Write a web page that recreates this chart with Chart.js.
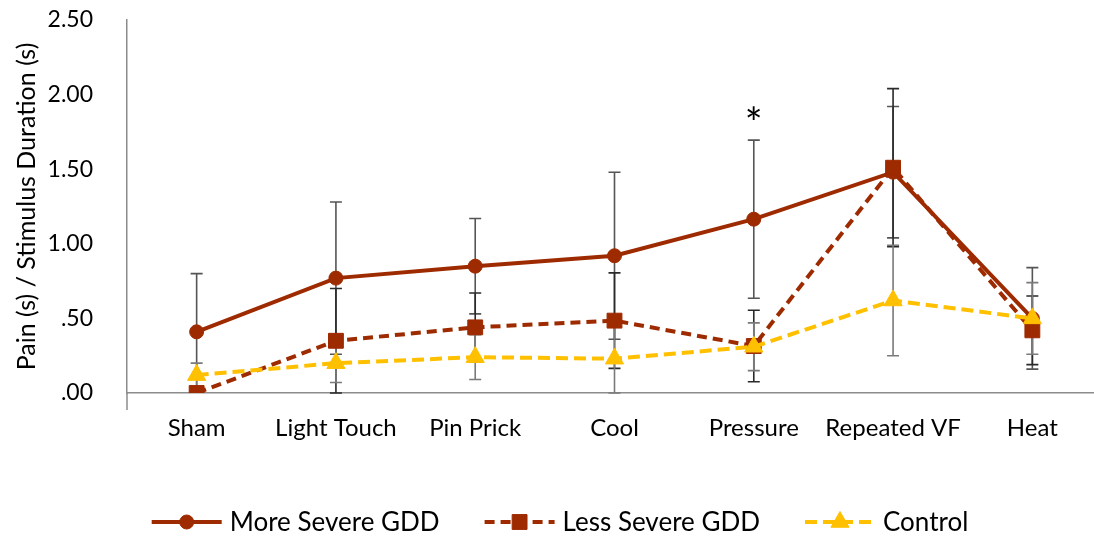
<!DOCTYPE html>
<html>
<head>
<meta charset="utf-8">
<script src="https://cdn.jsdelivr.net/npm/chart.js@4/dist/chart.umd.min.js"></script>
<style>
  html, body { margin: 0; padding: 0; overflow: hidden; background: #fff; }
  canvas { display: block; }
</style>
</head>
<body>
<canvas id="chart" width="1120" height="540"></canvas>
<script>
// Stimulus categories and group means (s) with their error half-widths
const categories = ['Sham', 'Light Touch', 'Pin Prick', 'Cool', 'Pressure', 'Repeated VF', 'Heat'];

const moreSevere    = [0.41, 0.77, 0.85, 0.92, 1.165, 1.48, 0.50];
const moreSevereErr = [0.39, 0.51, 0.32, 0.56, 0.53, 0.44, 0.34];

const lessSevere    = [0.00, 0.35, 0.44, 0.485, 0.315, 1.51, 0.42];
const lessSevereErr = [0.00, 0.35, 0.23, 0.32, 0.24, 0.53, 0.23];

const control       = [0.12, 0.20, 0.24, 0.23, 0.31, 0.62, 0.50];
const controlErr    = [0.08, 0.13, 0.15, 0.23, 0.16, 0.37, 0.24];

const yTickValues = [0, 0.5, 1.0, 1.5, 2.0, 2.5];
const significance = [null, null, null, null, '*', null, null];

const FONT = 'Lato, "Liberation Sans", sans-serif';
const DARK_RED = '#9E2A00';
const GOLD = '#FFC000';
const AXIS = '#8c8c8c';

function fmtTick(v) {
  const s = Number(v).toFixed(2);
  return v < 1 ? s.replace(/^0/, '') : s;
}

// Vertical error bars with caps, drawn through the chart's own scales
const errorBars = {
  id: 'errorBars',
  beforeDatasetsDraw(chart) {
    const { ctx, scales: { x, y } } = chart;
    ctx.save();
    chart.data.datasets.forEach((ds, di) => {
      if (!chart.isDatasetVisible(di) || !ds.errors) return;
      ctx.strokeStyle = ds.errorColor;
      ctx.lineWidth = 1.6;
      ds.data.forEach((v, i) => {
        const e = ds.errors[i];
        if (!e) return;
        const px = x.getPixelForValue(i);
        const top = y.getPixelForValue(v + e);
        const bot = y.getPixelForValue(Math.max(v - e, 0));
        ctx.beginPath();
        ctx.moveTo(px, top); ctx.lineTo(px, bot);
        ctx.moveTo(px - 6, top); ctx.lineTo(px + 6, top);
        ctx.moveTo(px - 6, bot); ctx.lineTo(px + 6, bot);
        ctx.stroke();
      });
    });
    ctx.restore();
  }
};

// Significance marks above the upper error bar of the first group
const sigMarks = {
  id: 'sigMarks',
  afterDatasetsDraw(chart) {
    const { ctx, scales: { x, y } } = chart;
    ctx.save();
    ctx.fillStyle = '#000';
    ctx.font = '42px ' + FONT;
    ctx.textAlign = 'center';
    ctx.textBaseline = 'alphabetic';
    significance.forEach((s, i) => {
      if (!s) return;
      const top = y.getPixelForValue(moreSevere[i] + moreSevereErr[i]);
      ctx.fillText(s, x.getPixelForValue(i), top - 2);
    });
    ctx.restore();
  }
};

function drawMarker(ctx, style, radius, x, y, color) {
  if (Chart.helpers && Chart.helpers.drawPoint) {
    ctx.fillStyle = color; ctx.strokeStyle = color; ctx.lineWidth = 1;
    ctx.setLineDash([]);
    Chart.helpers.drawPoint(ctx, { pointStyle: style, radius: radius, rotation: 0, borderWidth: 1 }, x, y);
  }
}

// Legend: line sample with centred marker, then the series name
const lineLegend = {
  id: 'lineLegend',
  afterDraw(chart) {
    const { ctx, chartArea } = chart;
    ctx.save();
    // y axis line continues a little below the category axis
    ctx.strokeStyle = AXIS; ctx.lineWidth = 1.5;
    ctx.beginPath();
    ctx.moveTo(chartArea.left, chartArea.bottom);
    ctx.lineTo(chartArea.left, chartArea.bottom + 17);
    ctx.stroke();

    ctx.font = '26px ' + FONT;
    ctx.textBaseline = 'middle';
    ctx.textAlign = 'left';
    const sample = 70, gapText = 8, gapItem = 45;
    const items = chart.data.datasets.map(ds => ({ ds, w: sample + gapText + ctx.measureText(ds.label).width }));
    const total = items.reduce((a, it) => a + it.w, 0) + gapItem * (items.length - 1);
    let cx = chart.width / 2 - total / 2;
    const cy = 522;
    items.forEach(({ ds, w }) => {
      ctx.strokeStyle = ds.borderColor;
      ctx.lineWidth = ds.borderWidth;
      ctx.setLineDash(ds.borderDash || []);
      ctx.beginPath();
      ctx.moveTo(cx, cy); ctx.lineTo(cx + sample, cy);
      ctx.stroke();
      drawMarker(ctx, ds.pointStyle, ds.pointRadius, cx + sample / 2, cy, ds.borderColor);
      ctx.fillStyle = '#000';
      ctx.fillText(ds.label, cx + sample + gapText, cy + 1);
      cx += w + gapItem;
    });
    ctx.restore();
  }
};

new Chart(document.getElementById('chart'), {
  type: 'line',
  data: {
    labels: categories,
    datasets: [
      {
        label: 'More Severe GDD', data: moreSevere, errors: moreSevereErr, errorColor: '#555555',
        borderColor: DARK_RED, backgroundColor: DARK_RED, borderWidth: 4,
        pointStyle: 'circle', pointRadius: 7, pointBorderWidth: 1,
        pointBackgroundColor: DARK_RED, pointBorderColor: DARK_RED, order: 2
      },
      {
        label: 'Less Severe GDD', data: lessSevere, errors: lessSevereErr, errorColor: '#2a2a2a',
        borderColor: DARK_RED, backgroundColor: DARK_RED, borderWidth: 4, borderDash: [10, 6],
        pointStyle: 'rect', pointRadius: 10.5, pointBorderWidth: 1,
        pointBackgroundColor: DARK_RED, pointBorderColor: DARK_RED, order: 1
      },
      {
        label: 'Control', data: control, errors: controlErr, errorColor: '#7a7a7a',
        borderColor: GOLD, backgroundColor: GOLD, borderWidth: 4, borderDash: [12, 6],
        pointStyle: 'triangle', pointRadius: 10.5, pointBorderWidth: 1,
        pointBackgroundColor: GOLD, pointBorderColor: GOLD, order: 0
      }
    ]
  },
  options: {
    responsive: false,
    animation: false,
    devicePixelRatio: 1,
    layout: { padding: { left: 0, top: 20, right: 18, bottom: 0 } },
    plugins: { legend: { display: false }, tooltip: { enabled: false } },
    elements: { line: { tension: 0 } },
    scales: {
      x: {
        offset: true,
        grid: { display: false, drawTicks: false },
        border: { display: true, color: AXIS, width: 1.5 },
        ticks: { color: '#000', font: { family: FONT, size: 24 }, padding: 21, maxRotation: 0, autoSkip: false },
        afterFit(s) { s.height = 147; }
      },
      y: {
        min: 0, max: 2.5,
        grid: { display: false, drawTicks: true, tickLength: 30 },
        border: { display: true, color: AXIS, width: 1.5 },
        afterBuildTicks(s) { s.ticks = yTickValues.map(v => ({ value: v })); },
        ticks: { color: '#000', font: { family: FONT, size: 23 }, padding: 4, callback: v => fmtTick(v) },
        title: {
          display: true, text: 'Pain (s) / Stimulus Duration (s)', color: '#000',
          font: { family: FONT, size: 25 }, padding: { top: 12, bottom: 0 }
        },
        afterFit(s) { s.width = 127; }
      }
    }
  },
  plugins: [errorBars, sigMarks, lineLegend]
});
</script>
</body>
</html>
